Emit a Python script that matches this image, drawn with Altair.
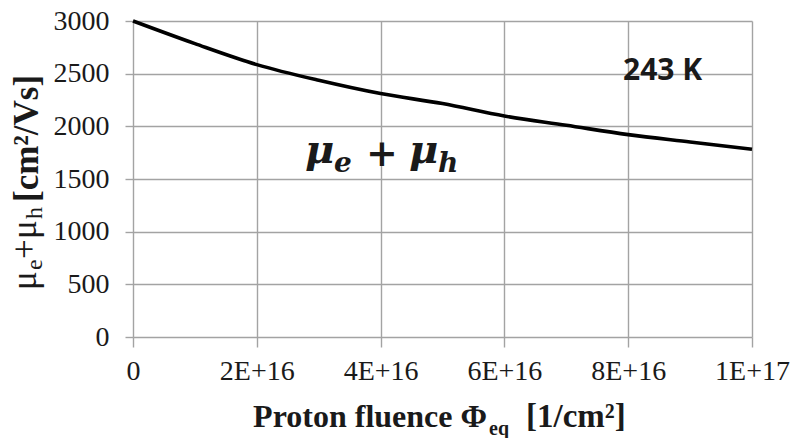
import altair as alt
import pandas as pd

# Sum of electron and hole mobility versus proton fluence at 243 K
fluence = [0, 1e16, 2e16, 3e16, 4e16, 5e16, 6e16, 7e16, 8e16, 9e16, 1e17]
mobility_sum = [3000, 2785, 2586, 2437, 2311, 2216, 2098, 2010, 1921, 1851, 1782]

x_ticks = [0, 2e16, 4e16, 6e16, 8e16, 1e17]
x_tick_labels = ["0", "2E+16", "4E+16", "6E+16", "8E+16", "1E+17"]
y_ticks = [0, 500, 1000, 1500, 2000, 2500, 3000]

temperature_label = "243 K"
curve_label_parts = ["μ", "e", "+", "μ", "h"]
y_title_parts = ["μ", "e", "+", "μ", "h", "[cm²/Vs]"]
x_title_parts = ["Proton fluence Φ", "eq", "[1/cm²]"]

SERIF = "Liberation Serif"
GRID = "#a3a3a3"
INK = "#1a1a1a"

df = pd.DataFrame({"fluence": fluence, "mu": mobility_sum})

label_array = "[" + ",".join(f"'{s}'" for s in x_tick_labels) + "]"

line = alt.Chart(df).mark_line(
    color="black", strokeWidth=3.6, interpolate="monotone"
).encode(
    x=alt.X(
        "fluence:Q",
        scale=alt.Scale(domain=[0, 1e17], nice=False, zero=False),
        axis=alt.Axis(
            values=x_ticks,
            labelExpr=f"{label_array}[round(datum.value / 2e16)]",
            title=None,
            grid=True,
            gridColor=GRID,
            gridWidth=1.4,
            domain=False,
            tickColor=GRID,
            tickWidth=1.4,
            tickSize=10,
            labelFont=SERIF,
            labelFontSize=28,
            labelColor=INK,
            labelPadding=10,
            labelFlush=False,
            labelOverlap=False,
        ),
    ),
    y=alt.Y(
        "mu:Q",
        scale=alt.Scale(domain=[0, 3000], nice=False),
        axis=alt.Axis(
            values=y_ticks,
            format="d",
            title=None,
            grid=True,
            gridColor=GRID,
            gridWidth=1.4,
            domain=False,
            tickColor=GRID,
            tickWidth=1.4,
            tickSize=8,
            labelFont=SERIF,
            labelFontSize=28,
            labelColor=INK,
            labelPadding=16,
            labelOverlap=False,
        ),
    ),
)


def text_piece(text, x, y, size, font=SERIF, weight="normal", style="normal",
               angle=0, align="left", baseline="alphabetic"):
    return alt.Chart(pd.DataFrame({"t": [text]})).mark_text(
        font=font, fontSize=size, fontWeight=weight, fontStyle=style,
        angle=angle, align=align, baseline=baseline, color=INK,
    ).encode(x=alt.value(x), y=alt.value(y), text="t:N")


layers = [line]

# temperature tag
layers.append(text_piece(temperature_label, 490, 59, 30, font="Open Sans", weight="bold"))

# in-plot formula  mu_e + mu_h
cl = curve_label_parts
layers += [
    text_piece(cl[0], 172, 142, 40, font="DejaVu Serif", weight="bold", style="italic"),
    text_piece(cl[1], 201, 151, 28, font="DejaVu Serif", weight="bold", style="italic"),
    text_piece(cl[2], 249, 134, 38, font="DejaVu Serif", weight="bold", align="center", baseline="middle"),
    text_piece(cl[3], 276, 142, 40, font="DejaVu Serif", weight="bold", style="italic"),
    text_piece(cl[4], 305, 151, 28, font="DejaVu Serif", weight="bold", style="italic"),
]

# rotated y-axis title, pieces laid out bottom to top
yt = y_title_parts
layers += [
    text_piece(yt[0], -97, 269, 35, angle=270),
    text_piece(yt[1], -91, 249, 24, angle=270),
    text_piece(yt[2], -97, 238, 35, angle=270),
    text_piece(yt[3], -97, 218, 35, angle=270),
    text_piece(yt[4], -91, 198, 24, angle=270),
    text_piece(yt[5], -95, 181, 35, weight="bold", angle=270),
]

# x-axis title with subscript
xt = x_title_parts
layers += [
    text_piece(xt[0], 354, 406, 32, weight="bold", align="right"),
    text_piece(xt[1], 356, 414, 20, weight="bold"),
    text_piece(xt[2], 393, 406, 33, weight="bold"),
]

chart = alt.layer(*layers).properties(
    width=619,
    height=316,
    autosize=alt.AutoSizeParams(type="none"),
    padding={"left": 133, "top": 21, "right": 43, "bottom": 101},
    background="white",
).configure_view(stroke=None)

chart.save("out.html", embed_options={"renderer": "svg", "actions": False})
